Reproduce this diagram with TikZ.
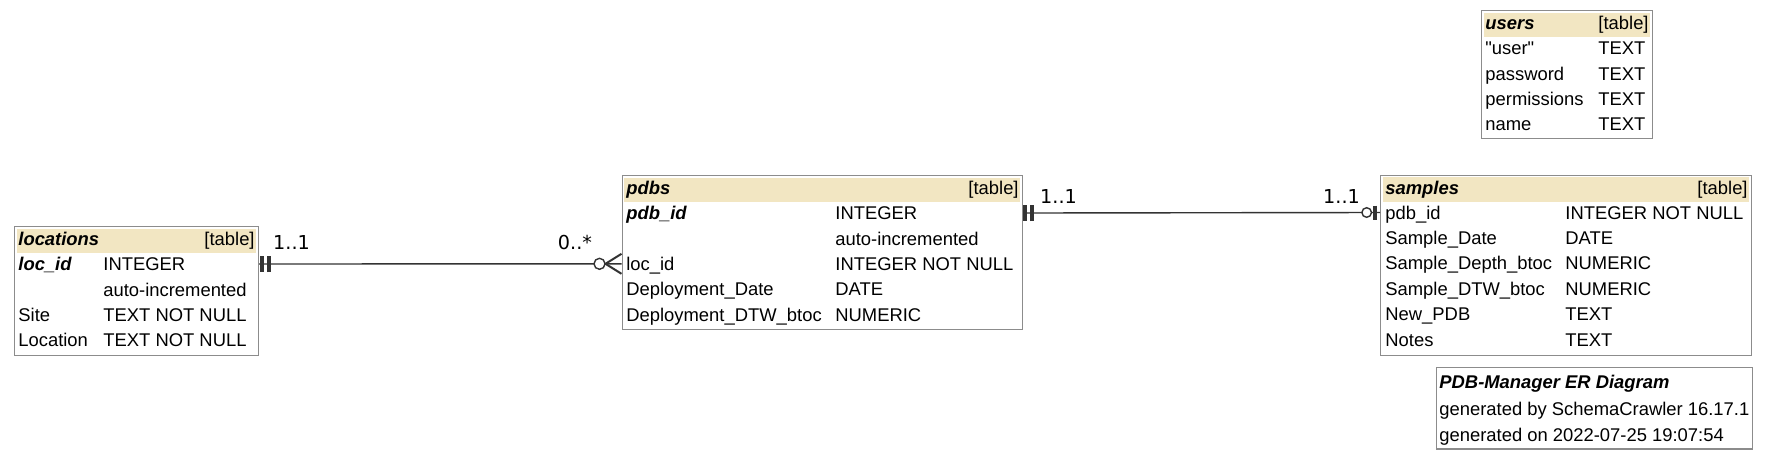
\documentclass[tikz,border=0pt]{standalone}
\usepackage{fontspec}
\setmainfont{Liberation Sans}
\newfontfamily\cardfont{DejaVu Sans}

\definecolor{hdrfill}{HTML}{F2E6C2}
\definecolor{boxline}{HTML}{8C8C8C}
\definecolor{relline}{HTML}{333333}

\begin{document}
\begin{tikzpicture}[x=0.5pt, y=-0.5pt]
    \tikzstyle{tbl}=[draw=boxline, line width=0.6pt, anchor=north west, inner sep=0pt]
    \tikzstyle{hdr}=[fill=hdrfill]
    \tikzstyle{txt}=[anchor=west, inner sep=0pt, text height=6.6pt, text depth=0pt, font=\fontsize{9.2}{10}\selectfont]
    \tikzstyle{pk}=[txt, font=\fontsize{9.2}{10}\selectfont\bfseries\itshape]
    \tikzstyle{tag}=[txt, anchor=east]
    \tikzstyle{card}=[anchor=base, inner sep=0pt, font=\cardfont\fontsize{9.6}{11}\selectfont]
    \tikzstyle{rel}=[draw=relline, line width=0.7pt]
    \tikzstyle{bar}=[draw=relline, line width=2pt]
    \tikzstyle{crow}=[draw=relline, line width=1pt]
    \tikzstyle{ring}=[draw=relline, fill=white, line width=0.7pt]

    \path[use as bounding box, fill=white] (0,0) rectangle (1768,456);

    % locations
    \node[tbl, minimum width=122pt, minimum height=64.5pt] (locations) at (14,226) {};
    \fill[hdr] (16.5,228.5) rectangle (255.5,253);
    \node[pk] (lochead) at (18,239) {locations};
    \node[tag] at (255,239) {[table]};
    \foreach \i/\f/\t in {1/{\bfseries\itshape loc\_id}/INTEGER, 2//auto-incremented, 3/Site/TEXT NOT NULL, 4/Location/TEXT NOT NULL}
    {
        \node[txt] (locrow\i) at (18,264+25.4*\i-25.4) {\f};
        \node[txt] (loctype\i) at (103,264+25.4*\i-25.4) {\t};
    }

    % pdbs
    \node[tbl, minimum width=200.25pt, minimum height=77pt] (pdbs) at (621.5,175) {};
    \fill[hdr] (624,177.5) rectangle (1019.5,202);
    \node[pk] (pdbhead) at (626,188) {pdbs};
    \node[tag] at (1019,188) {[table]};
    \foreach \i/\f/\t in {1/{\bfseries\itshape pdb\_id}/INTEGER, 2//auto-incremented, 3/loc\_id/INTEGER NOT NULL, 4/Deployment\_Date/DATE, 5/Deployment\_DTW\_btoc/NUMERIC}
    {
        \node[txt] (pdbrow\i) at (626,213+25.4*\i-25.4) {\f};
        \node[txt] (pdbtype\i) at (835,213+25.4*\i-25.4) {\t};
    }

    % samples
    \node[tbl, minimum width=185.5pt, minimum height=90pt] (samples) at (1380,174.5) {};
    \fill[hdr] (1382.5,177) rectangle (1748.5,201.5);
    \node[pk] (smphead) at (1385,187.5) {samples};
    \node[tag] at (1748,187.5) {[table]};
    \foreach \i/\f/\t in {1/pdb\_id/INTEGER NOT NULL, 2/Sample\_Date/DATE, 3/Sample\_Depth\_btoc/NUMERIC, 4/Sample\_DTW\_btoc/NUMERIC, 5/New\_PDB/TEXT, 6/Notes/TEXT}
    {
        \node[txt] (smprow\i) at (1385,212.5+25.4*\i-25.4) {\f};
        \node[txt] (smptype\i) at (1565,212.5+25.4*\i-25.4) {\t};
    }

    % users
    \node[tbl, minimum width=85.5pt, minimum height=64pt] (users) at (1481,10) {};
    \fill[hdr] (1483.5,12.5) rectangle (1649.5,37);
    \node[pk] (usrhead) at (1485,23) {users};
    \node[tag] at (1649,23) {[table]};
    \foreach \i/\f/\t in {1/{\textquotedbl user\textquotedbl}/TEXT, 2/password/TEXT, 3/permissions/TEXT, 4/name/TEXT}
    {
        \node[txt] (usrrow\i) at (1485,48+25.4*\i-25.4) {\f};
        \node[txt] (usrtype\i) at (1598,48+25.4*\i-25.4) {\t};
    }

    % legend
    \node[tbl, minimum width=158pt, minimum height=40.8pt] (legend) at (1435.5,366.7) {};
    \node[pk] (legtitle) at (1439,382) {PDB-Manager ER Diagram};
    \node[txt] (legby) at (1439,408.5) {generated by SchemaCrawler 16.17.1};
    \node[txt] (legon) at (1439,435) {generated on 2022-07-25 19:07:54};

    % relationships
    \coordinate (locend) at (locations.east |- locrow1);
    \coordinate (pdbend) at (pdbs.west |- pdbrow3);
    \coordinate (pdbstart) at (pdbs.east |- pdbrow1);
    \coordinate (smpend) at (samples.west |- smprow1);

    \draw[rel] (locend) -- (pdbend);
    \draw[bar] (locend) ++(2.8,-8) -- ++(0,16) ++(6.7,0) -- ++(0,-16);
    \draw[crow] (pdbend) ++(0,-10) -- ++(-16,10) -- ++(16,10);
    \draw[ring] (pdbend) ++(-22,0) circle[radius=5.5];

    \draw[rel] (pdbstart) -- (smpend);
    \draw[bar] (pdbstart) ++(2.2,-8) -- ++(0,16) ++(6.4,0) -- ++(0,-16);
    \draw[bar] (smpend) ++(-5.3,-7) -- ++(0,14);
    \draw[ring] (smpend) ++(-13.3,0) circle[radius=4.8];

    \node[card] (locone) at (291.5,249) {1..1};
    \node[card] (pdbmany) at (575,249) {0..*};
    \node[card] (pdbone) at (1058.5,203) {1..1};
    \node[card] (smpone) at (1341.5,203) {1..1};
\end{tikzpicture}
\end{document}
